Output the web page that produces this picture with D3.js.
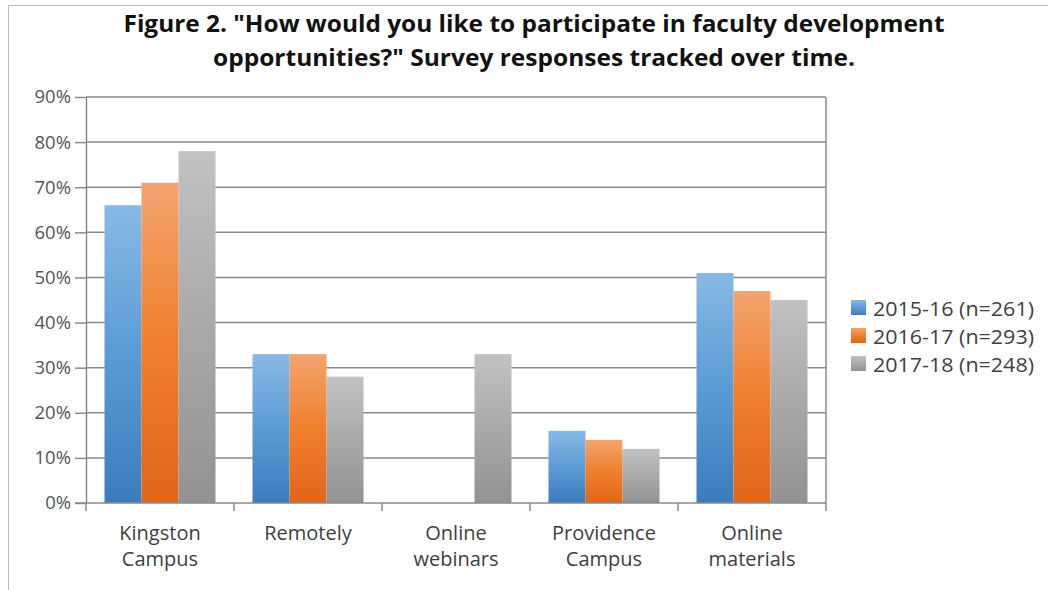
<!DOCTYPE html>
<html>
<head>
<meta charset="utf-8">
<script src="https://cdn.jsdelivr.net/npm/d3@7"></script>
<style>
  html, body { margin: 0; padding: 0; background: #fff; }
  svg { display: block; }
  text { font-family: "Open Sans", "Noto Sans", sans-serif; }
</style>
</head>
<body>
<svg id="chart" width="1048" height="590"></svg>
<script>
// Survey responses, percent of respondents per year
const categories = ["Kingston\nCampus", "Remotely", "Online\nwebinars", "Providence\nCampus", "Online\nmaterials"];
const seriesNames = ["2015-16 (n=261)", "2016-17 (n=293)", "2017-18 (n=248)"];
const values2015 = [66, 33, 0, 16, 51];
const values2016 = [71, 33, 0, 14, 47];
const values2017 = [78, 28, 33, 12, 45];
const yTicks = [0, 10, 20, 30, 40, 50, 60, 70, 80, 90];
const titleLines = [
  "Figure 2. \"How would you like to participate in faculty development",
  "opportunities?\" Survey responses tracked over time."
];

const seriesValues = [values2015, values2016, values2017];
const palette = [
  ["#88b9e5", "#5b9bd5", "#3c7cbd"],
  ["#f3a470", "#f07f2c", "#e0661a"],
  ["#c2c2c2", "#a9a9a9", "#929292"]
];

const svg = d3.select("#chart");

// outer frame
svg.append("path")
  .attr("d", "M8.5,590 V5.5 H1048")
  .attr("fill", "none").attr("stroke", "#bdbdbd").attr("stroke-width", 1);

// gradients for the bar fills
const defs = svg.append("defs");
palette.forEach((c, i) => {
  const g = defs.append("linearGradient").attr("id", "grad" + i)
    .attr("x1", 0).attr("y1", 0).attr("x2", 0).attr("y2", 1);
  g.append("stop").attr("offset", "0%").attr("stop-color", c[0]);
  g.append("stop").attr("offset", "50%").attr("stop-color", c[1]);
  g.append("stop").attr("offset", "100%").attr("stop-color", c[2]);
});

// title
const titleWidths = [821, 642];
svg.append("g").selectAll("text").data(titleLines).join("text")
  .attr("x", 534).attr("y", (d, i) => 32 + i * 34)
  .attr("text-anchor", "middle")
  .attr("font-size", 23.5).attr("font-weight", "bold").attr("fill", "#111")
  .attr("textLength", (d, i) => titleWidths[i])
  .attr("lengthAdjust", "spacingAndGlyphs")
  .text(d => d);

const plotLeft = 86, plotRight = 826, plotTop = 97, plotBottom = 503;

const x = d3.scaleBand().domain(categories).range([plotLeft, plotRight]).paddingInner(0).paddingOuter(0);
const x1 = d3.scaleBand().domain(d3.range(seriesNames.length)).range([0, x.bandwidth()]).paddingInner(0).paddingOuter(0.5);
const y = d3.scaleLinear().domain([0, 90]).range([plotBottom, plotTop]);

const gridColor = "#8a8a8a";

// horizontal gridlines
svg.append("g").selectAll("line").data(yTicks.filter(d => d > 0)).join("line")
  .attr("x1", plotLeft).attr("x2", plotRight)
  .attr("y1", d => y(d)).attr("y2", d => y(d))
  .attr("stroke", gridColor).attr("stroke-width", 1.5);

// right border of plot area
svg.append("line")
  .attr("x1", plotRight).attr("x2", plotRight)
  .attr("y1", plotTop).attr("y2", plotBottom)
  .attr("stroke", gridColor).attr("stroke-width", 1.5);

// bars
const groups = svg.append("g").selectAll("g").data(categories).join("g")
  .attr("transform", d => `translate(${x(d)},0)`);
groups.selectAll("rect")
  .data((d, ci) => seriesValues.map((vals, si) => ({ si, v: vals[ci] })).filter(o => o.v > 0))
  .join("rect")
  .attr("x", d => x1(d.si))
  .attr("width", x1.bandwidth())
  .attr("y", d => y(d.v))
  .attr("height", d => y(0) - y(d.v))
  .attr("fill", d => `url(#grad${d.si})`);

// y axis
const yAxis = svg.append("g")
  .attr("transform", `translate(${plotLeft},0)`)
  .call(d3.axisLeft(y).tickValues(yTicks).tickFormat(d => d + "%").tickSize(11).tickSizeOuter(0).tickPadding(4));
yAxis.select(".domain").attr("stroke", gridColor).attr("stroke-width", 1.5);
yAxis.selectAll(".tick line").attr("stroke", gridColor).attr("stroke-width", 1.5);
yAxis.selectAll(".tick text")
  .attr("font-size", 18.5).attr("fill", "#555").attr("font-family", "Open Sans, sans-serif");

// x axis line and boundary ticks
const boundaries = categories.map(c => x(c)).concat([plotRight]);
svg.append("line")
  .attr("x1", plotLeft - 11).attr("x2", plotRight)
  .attr("y1", plotBottom).attr("y2", plotBottom)
  .attr("stroke", gridColor).attr("stroke-width", 1.5);
svg.append("g").selectAll("line").data(boundaries).join("line")
  .attr("x1", d => d).attr("x2", d => d)
  .attr("y1", plotBottom).attr("y2", plotBottom + 8)
  .attr("stroke", gridColor).attr("stroke-width", 1.5);

// category labels
const catLabels = svg.append("g").selectAll("text").data(categories).join("text")
  .attr("x", d => x(d) + x.bandwidth() / 2)
  .attr("y", 540)
  .attr("text-anchor", "middle")
  .attr("font-size", 20).attr("fill", "#404040");
catLabels.selectAll("tspan").data(d => d.split("\n")).join("tspan")
  .attr("x", function () { return d3.select(this.parentNode).attr("x"); })
  .attr("dy", (d, i) => i === 0 ? 0 : 26)
  .text(d => d);

// legend
const legend = svg.append("g").attr("transform", "translate(851,300)");
const items = legend.selectAll("g").data(seriesNames).join("g")
  .attr("transform", (d, i) => `translate(0,${i * 28})`);
items.append("rect")
  .attr("width", 15).attr("height", 15)
  .attr("fill", (d, i) => `url(#grad${i})`);
items.append("text")
  .attr("x", 22).attr("y", 15.5)
  .attr("font-size", 20).attr("fill", "#404040")
  .attr("textLength", 161).attr("lengthAdjust", "spacingAndGlyphs")
  .text(d => d);
</script>
</body>
</html>
